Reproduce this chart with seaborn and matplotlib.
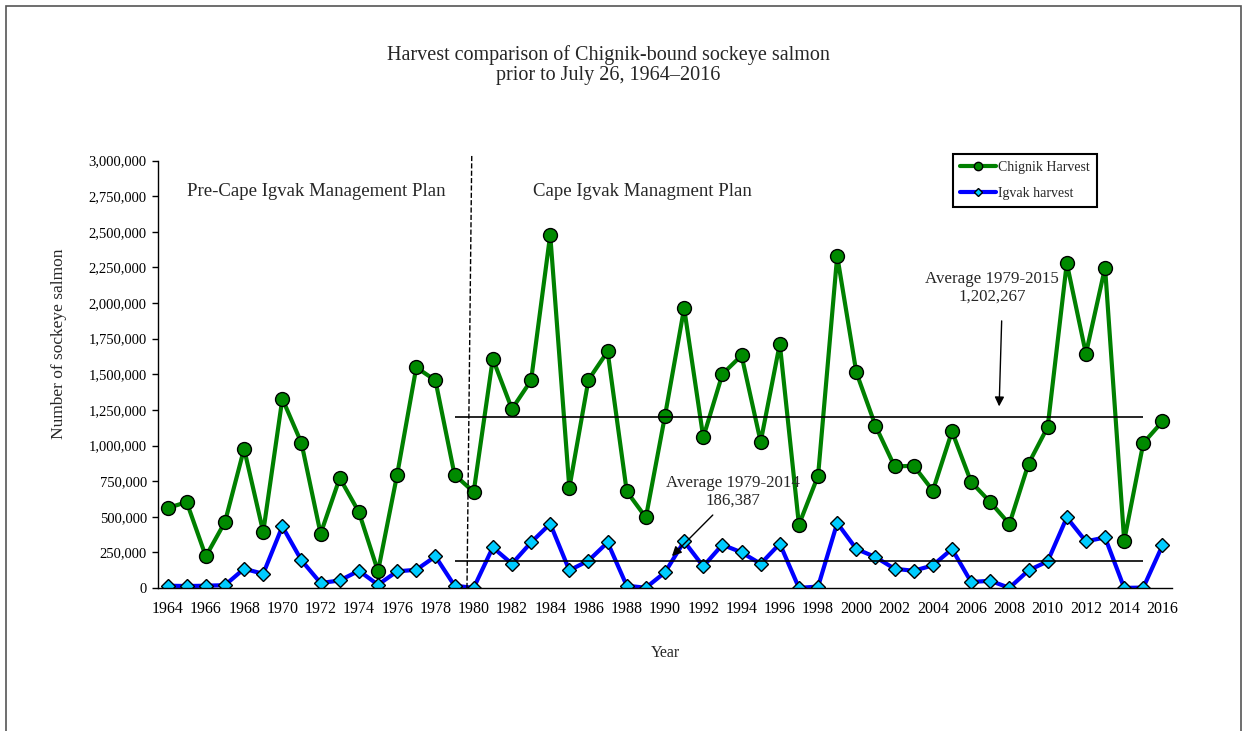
import numpy as np
import pandas as pd
import seaborn as sns
from matplotlib import pyplot as plt
from matplotlib.patches import Rectangle
from matplotlib.ticker import FuncFormatter

# harvest values, 1964-2016
years = list(range(1964, 2017))
chignik = [561000, 603000, 222000, 463000, 977000, 393000, 1328000, 1017000, 381000, 772000,
           533000, 117000, 795000, 1548000, 1457000, 795000, 674000, 1609000, 1256000, 1457000,
           2479000, 702000, 1461000, 1660000, 678000, 495000, 1209000, 1964000, 1057000, 1501000,
           1632000, 1026000, 1714000, 444000, 788000, 2331000, 1513000, 1139000, 853000, 858000,
           683000, 1099000, 744000, 603000, 449000, 872000, 1130000, 2280000, 1644000, 2249000,
           332000, 1017000, 1169000]
igvak = [16000, 14000, 16000, 20000, 135000, 100000, 432000, 194000, 35000, 53000,
         121000, 23000, 117000, 128000, 222000, 16000, 1000, 285000, 170000, 320000,
         451000, 124000, 192000, 320000, 16000, 2000, 110000, 327000, 152000, 304000,
         250000, 170000, 311000, 1000, 10000, 456000, 274000, 217000, 135000, 121000,
         159000, 274000, 42000, 51000, 1000, 124000, 187000, 495000, 327000, 355000,
         1000, 3000, 299000]

avg_chignik = 1202267
avg_igvak = 186387
avg_years = [1979, 2015]

df = pd.DataFrame({'year': years, 'chignik': chignik, 'igvak': igvak})

sns.set_theme(style='white')
plt.rcParams['font.family'] = ['Liberation Serif', 'DejaVu Serif']

fig = plt.figure(figsize=(12.43, 7.31), dpi=100)
ax = fig.add_axes([0.1271, 0.1956, 0.8158, 0.5848])

# outer frame of the figure
fig.patches.append(Rectangle((6 / 1243, -0.02), 1235 / 1243, 1 - 6 / 731 + 0.02,
                             transform=fig.transFigure, fill=False,
                             edgecolor='#555555', linewidth=1.2))

sns.lineplot(data=df, x='year', y='chignik', ax=ax, color='#008000', linewidth=3,
             marker='o', markersize=10, markerfacecolor='#008a00',
             markeredgecolor='black', markeredgewidth=1, label='Chignik Harvest')
sns.lineplot(data=df, x='year', y='igvak', ax=ax, color='#0000ff', linewidth=3,
             marker='D', markersize=7.5, markerfacecolor='#00ccff',
             markeredgecolor='black', markeredgewidth=1, label='Igvak harvest')

# averages
ax.hlines([avg_chignik, avg_igvak], avg_years[0], avg_years[1], color='black', linewidth=1.2)

# management plan boundary
ax.plot([1979.65, 1979.9], [0, 3.04e6], color='black', linestyle='--', linewidth=1,
        clip_on=False)

ax.text(1971.8, 2.78e6, 'Pre-Cape Igvak Management Plan', ha='center', va='center', fontsize=13.5)
ax.text(1988.8, 2.785e6, 'Cape Igvak Managment Plan', ha='center', va='center', fontsize=13.5)

ax.annotate('', xy=(2007.46, 1.255e6), xytext=(2007.6, 1.894e6),
            arrowprops=dict(arrowstyle='-|>', color='black', lw=1, mutation_scale=14))
ax.text(2007.1, 2.108e6, 'Average 1979-2015\n1,202,267', ha='center', va='center',
        fontsize=12.2, linespacing=1.12)

ax.annotate('', xy=(1990.26, 0.21e6), xytext=(1992.6, 0.526e6),
            arrowprops=dict(arrowstyle='-|>', color='black', lw=1, mutation_scale=14))
ax.text(1993.56, 0.673e6, 'Average 1979-2014\n186,387', ha='center', va='center',
        fontsize=12.2, linespacing=1.12)

ax.set_xlim(1963.5, 2016.5)
ax.set_ylim(0, 3000000)
ax.set_xticks(years[::2])
ax.set_yticks(np.arange(0, 3000001, 250000))
ax.yaxis.set_major_formatter(FuncFormatter(lambda v, p: f'{int(v):,}'))
ax.tick_params(axis='x', length=0, pad=9, labelsize=11.5, colors='black')
ax.tick_params(axis='y', length=4, width=1, direction='out', pad=4, labelsize=10.5,
               colors='black', left=True)

for side in ['top', 'right']:
    ax.spines[side].set_visible(False)
for side in ['left', 'bottom']:
    ax.spines[side].set_color('black')
    ax.spines[side].set_linewidth(1)

ax.set_xlabel('Year', fontsize=11.5)
ax.set_ylabel('Number of sockeye salmon', fontsize=12.5)
ax.xaxis.set_label_coords(0.5, -0.133)
ax.yaxis.set_label_coords(-0.0897, 0.571)

leg = ax.legend(loc='upper right', bbox_to_anchor=(0.926, 1.0152), borderaxespad=0,
                fontsize=10, frameon=True, fancybox=False, framealpha=1, edgecolor='black',
                handlelength=2.6, markerscale=0.6, borderpad=0.5, labelspacing=0.95,
                handletextpad=0.15)
leg.get_frame().set_linewidth(1.5)

fig.text(608 / 1243, 1 - 65 / 731,
         'Harvest comparison of Chignik-bound sockeye salmon\nprior to July 26, 1964\u20132016',
         ha='center', va='center', fontsize=14.5, linespacing=1.12)

fig.savefig('out.png', dpi=100)
